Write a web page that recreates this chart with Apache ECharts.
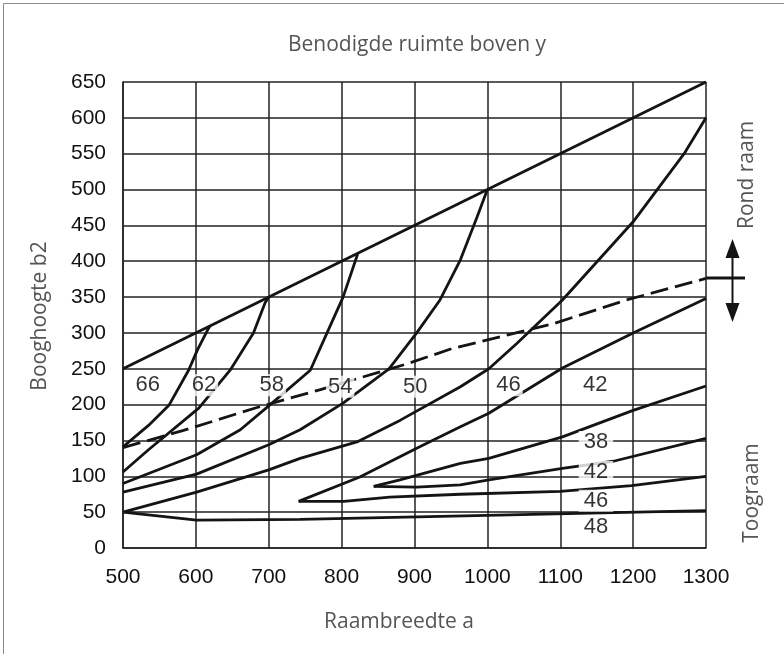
<!DOCTYPE html>
<html>
<head>
<meta charset="utf-8">
<script src="https://cdn.jsdelivr.net/npm/echarts@6/dist/echarts.min.js"></script>
<style>
html,body{margin:0;padding:0;background:#fff;}
#chart{width:784px;height:654px;}
</style>
</head>
<body>
<div id="chart"></div>
<script>
// ---- data ----
const xMin = 500, xMax = 1300, xStep = 100;
const yMin = 0, yMax = 650, yStep = 50;

// upper envelope (Rond raam)
const envelope = [[500, 250], [1300, 650]];

// Rond raam curves
const rond66 = [[500,141],[535,171],[563,199],[590,248],[602,276],[616,304],[619,309]];
const rond62 = [[500,106],[535,137],[604,195],[647,248],[679,300],[695,342],[700,350]];
const rond58 = [[500,90],[601,130],[661,165],[702,200],[757,248],[780,300],[802,350],[822,410]];
const rond54 = [[500,78],[601,103],[700,144],[743,165],[802,202],[865,250],[903,300],[935,346],[963,402],[986,462],[1000,500]];
const rond50 = [[500,50],[601,78],[700,109],[743,125],[821,148],[880,178],[963,225],[1002,250],[1040,285],[1103,346],[1200,455],[1270,550],[1300,600]];
const rond46 = [[741,65],[825,99],[903,139],[963,169],[1002,188],[1103,251],[1200,300],[1300,348]];
const rond42 = [[844,86],[880,95],[963,118],[1002,125],[1103,155],[1200,192],[1300,226]];

// Toograam curves
const toog42 = [[844,86],[903,85],[963,88],[1002,95],[1103,111],[1173,121],[1300,153]];
const toog46 = [[741,65],[803,65],[866,71],[963,75],[1100,79],[1198,87],[1300,100]];
const toog48 = [[500,50],[601,39],[743,40],[936,44],[1300,52]];

// dashed boundary
const boundary = [[500,140],[583,164],[684,196],[771,221],[887,256],[951,278],[1091,313],[1191,346],[1300,376]];

// curve labels
const rondLabels = ['66','62','58','54','50','46','42'];
const rondLabelX = [534, 611, 704, 798, 901, 1029, 1148];
const rondLabelY = [227, 227, 227, 225, 225, 227, 227];
const toogLabels = ['38','42','46','48'];
const toogLabelX = [1149, 1149, 1149, 1149];
const toogLabelY = [148, 106, 66, 30];

// ---- chart ----
const chart = echarts.init(document.getElementById('chart'));
const LINE = '#141414';
const NUM_FONT = '"Liberation Sans", Arial, Helvetica, sans-serif';
const NAME_FONT = '"Open Sans", sans-serif';
const curves = [envelope, rond66, rond62, rond58, rond54, rond50, rond46, rond42, toog42, toog46, toog48];

const series = curves.map(d => ({
  type: 'line', data: d, showSymbol: false, symbol: 'none', z: 3,
  lineStyle: { color: LINE, width: 2.8 }, silent: true, animation: false
}));
series.push({
  type: 'line', data: boundary, showSymbol: false, symbol: 'none', z: 3,
  lineStyle: { color: LINE, width: 2.8, type: [18, 7] }, animation: false
});
const labelData = [];
rondLabels.forEach((t, i) => labelData.push({ value: [rondLabelX[i], rondLabelY[i], t], label: { padding: [0, 2] } }));
toogLabels.forEach((t, i) => labelData.push({ value: [toogLabelX[i], toogLabelY[i], t], label: { padding: [0, 5] } }));
series.push({
  type: 'scatter', data: labelData, symbolSize: 0, z: 10, animation: false,
  label: {
    show: true, position: 'inside', formatter: p => p.value[2],
    fontFamily: NUM_FONT, fontSize: 22, color: '#000',
    backgroundColor: '#fff'
  }
});

chart.setOption({
  animation: false,
  grid: { left: 123, right: 78, top: 82, bottom: 106 },
  xAxis: {
    type: 'value', min: xMin, max: xMax, interval: xStep,
    axisLine: { show: true, lineStyle: { color: '#222', width: 1.5 } },
    axisTick: { show: false },
    splitLine: { show: true, lineStyle: { color: '#222', width: 1.5 } },
    axisLabel: { color: '#111', fontSize: 21, fontFamily: NUM_FONT, margin: 19, formatter: v => String(v) }
  },
  yAxis: {
    type: 'value', min: yMin, max: yMax, interval: yStep,
    axisLine: { show: true, lineStyle: { color: '#222', width: 1.5 } },
    axisTick: { show: false },
    splitLine: { show: true, lineStyle: { color: '#222', width: 1.5 } },
    axisLabel: { color: '#111', fontSize: 21, fontFamily: NUM_FONT, margin: 17, formatter: v => String(v) }
  },
  series: series,
  graphic: [
    { type: 'rect', shape: { x: 3.5, y: 3.5, width: 900, height: 900 }, style: { fill: 'none', stroke: '#8a8a8a', lineWidth: 1 }, z: -1 },
    { type: 'text', x: 417, y: 45, style: { text: 'Benodigde ruimte boven y', font: '21px ' + NAME_FONT, fill: '#555', textAlign: 'center', textVerticalAlign: 'middle' } },
    { type: 'text', x: 399, y: 622, style: { text: 'Raambreedte a', font: '21px ' + NAME_FONT, fill: '#555', textAlign: 'center', textVerticalAlign: 'middle' } },
    { type: 'text', x: 40, y: 316, rotation: Math.PI / 2, style: { text: 'Booghoogte b2', font: '21px ' + NAME_FONT, fill: '#555', textAlign: 'center', textVerticalAlign: 'middle' } },
    { type: 'text', x: 747, y: 175, rotation: Math.PI / 2, style: { text: 'Rond raam', font: '21px ' + NAME_FONT, fill: '#555', textAlign: 'center', textVerticalAlign: 'middle' } },
    { type: 'text', x: 752, y: 493, rotation: Math.PI / 2, style: { text: 'Toograam', font: '21px ' + NAME_FONT, fill: '#555', textAlign: 'center', textVerticalAlign: 'middle' } },
    { type: 'line', shape: { x1: 706, y1: 278, x2: 745, y2: 278 }, style: { stroke: LINE, lineWidth: 2.8 } },
    { type: 'line', shape: { x1: 732.5, y1: 252, x2: 732.5, y2: 310 }, style: { stroke: LINE, lineWidth: 2 } },
    { type: 'polygon', shape: { points: [[725.5, 258], [739.5, 258], [732.5, 239]] }, style: { fill: LINE } },
    { type: 'polygon', shape: { points: [[725.5, 303], [739.5, 303], [732.5, 322]] }, style: { fill: LINE } }
  ]
});
</script>
</body>
</html>
